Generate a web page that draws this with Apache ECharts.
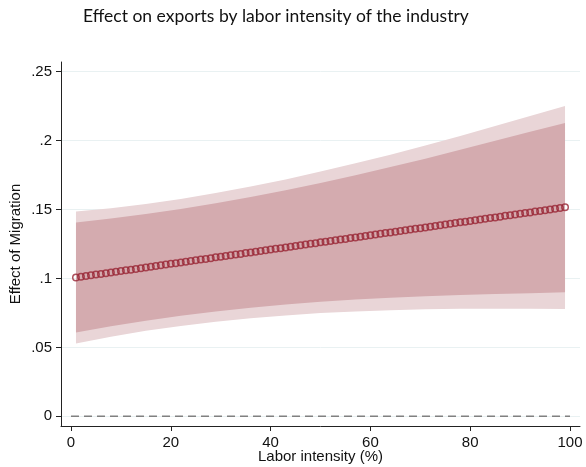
<!DOCTYPE html>
<html>
<head>
<meta charset="utf-8">
<script src="https://cdn.jsdelivr.net/npm/echarts@6/dist/echarts.min.js"></script>
<style>
  html, body { margin: 0; padding: 0; background: #fff; }
  #chart { width: 586px; height: 467px; }
</style>
</head>
<body>
<div id="chart"></div>
<script>
// Labor intensity of the industry (%), one estimate per percentage point
const labor = [1,2,3,4,5,6,7,8,9,10,11,12,13,14,15,16,17,18,19,20,
  21,22,23,24,25,26,27,28,29,30,31,32,33,34,35,36,37,38,39,40,
  41,42,43,44,45,46,47,48,49,50,51,52,53,54,55,56,57,58,59,60,
  61,62,63,64,65,66,67,68,69,70,71,72,73,74,75,76,77,78,79,80,
  81,82,83,84,85,86,87,88,89,90,91,92,93,94,95,96,97,98,99];

// Marginal effect of migration on exports
const effect = [0.1007,0.1012,0.1018,0.1023,0.1028,0.1033,0.1038,0.1044,0.1049,0.1054,
  0.1059,0.1064,0.1069,0.1075,0.1080,0.1085,0.1090,0.1095,0.1101,0.1106,
  0.1111,0.1116,0.1121,0.1127,0.1132,0.1137,0.1142,0.1147,0.1153,0.1158,
  0.1163,0.1168,0.1173,0.1178,0.1184,0.1189,0.1194,0.1199,0.1204,0.1210,
  0.1215,0.1220,0.1225,0.1230,0.1236,0.1241,0.1246,0.1251,0.1256,0.1262,
  0.1267,0.1272,0.1277,0.1282,0.1287,0.1293,0.1298,0.1303,0.1308,0.1313,
  0.1319,0.1324,0.1329,0.1334,0.1339,0.1345,0.1350,0.1355,0.1360,0.1365,
  0.1370,0.1376,0.1381,0.1386,0.1391,0.1396,0.1402,0.1407,0.1412,0.1417,
  0.1422,0.1428,0.1433,0.1438,0.1443,0.1448,0.1454,0.1459,0.1464,0.1469,
  0.1474,0.1479,0.1485,0.1490,0.1495,0.1500,0.1505,0.1511,0.1516];

// Confidence bands, read at every 7th point
const bandX     = [1, 8, 15, 22, 29, 36, 43, 50, 57, 64, 71, 78, 85, 92, 99];
const ci95Upper = [0.1486,0.1510,0.1541,0.1577,0.1620,0.1667,0.1718,0.1775,0.1835,0.1898,0.1965,0.2034,0.2105,0.2178,0.2250];
const ci95Lower = [0.0528,0.0578,0.0620,0.0655,0.0686,0.0712,0.0732,0.0749,0.0761,0.0770,0.0776,0.0780,0.0781,0.0780,0.0778];
const ci90Upper = [0.1406,0.1435,0.1467,0.1503,0.1545,0.1590,0.1639,0.1693,0.1749,0.1808,0.1869,0.1933,0.1999,0.2065,0.2128];
const ci90Lower = [0.0608,0.0653,0.0694,0.0729,0.0761,0.0788,0.0811,0.0831,0.0847,0.0860,0.0871,0.0881,0.0887,0.0893,0.0900];

// Reference line at zero effect
const zeroLineX = [0, 100];
const zeroLineY = [0, 0];

// Axis ticks
const xTicks = [0, 20, 40, 60, 80, 100];
const yTicks = [0, 0.05, 0.1, 0.15, 0.2, 0.25];
const yTickLabels = ['0', '.05', '.1', '.15', '.2', '.25'];

const FONT = 'Liberation Sans';
const FONT_SIZE = 15;
const AXIS_COLOR = '#222';

function bandSeries(name, lower, upper, fill, z) {
  return {
    type: 'custom',
    name: name,
    silent: true,
    z: z,
    data: bandX.map((x, i) => [x, lower[i], upper[i]]),
    encode: { x: 0, y: [1, 2] },
    renderItem: function (params, api) {
      if (params.dataIndex !== 0) return null;
      const pts = [];
      for (let i = 0; i < bandX.length; i++) pts.push(api.coord([bandX[i], upper[i]]));
      for (let i = bandX.length - 1; i >= 0; i--) pts.push(api.coord([bandX[i], lower[i]]));
      return { type: 'polygon', shape: { points: pts }, style: { fill: fill } };
    }
  };
}

const chart = echarts.init(document.getElementById('chart'), null, { renderer: 'canvas' });

chart.setOption({
  animation: false,
  backgroundColor: '#fff',
  title: {
    text: 'Effect on exports by labor intensity of the industry',
    left: 78,
    top: 2,
    textStyle: { fontFamily: 'Lato', fontWeight: 'normal', fontSize: 17.5, color: '#111' }
  },
  grid: { left: 61, right: 6, top: 62, bottom: 41, outerBoundsMode: 'none', containLabel: false },
  xAxis: {
    type: 'value',
    min: -2,
    max: 102,
    name: 'Labor intensity (%)',
    nameLocation: 'middle',
    nameGap: 23,
    nameMoveOverlap: false,
    nameTextStyle: { fontFamily: FONT, fontSize: FONT_SIZE, color: '#111' },
    axisLine: { show: true, onZero: false, lineStyle: { color: AXIS_COLOR, width: 1 } },
    axisTick: { show: true, customValues: xTicks, length: 5, lineStyle: { color: AXIS_COLOR } },
    axisLabel: { customValues: xTicks, margin: 9, fontFamily: FONT, fontSize: FONT_SIZE, color: '#111' },
    splitLine: { show: false }
  },
  yAxis: {
    type: 'value',
    min: -0.007,
    max: 0.257,
    name: 'Effect of Migration',
    nameLocation: 'middle',
    nameGap: 38,
    nameMoveOverlap: false,
    nameTextStyle: { fontFamily: FONT, fontSize: FONT_SIZE, color: '#111' },
    axisLine: { show: true, onZero: false, lineStyle: { color: AXIS_COLOR, width: 1 } },
    axisTick: { show: true, customValues: yTicks, length: 5, lineStyle: { color: AXIS_COLOR } },
    axisLabel: {
      customValues: yTicks,
      margin: 9,
      fontFamily: FONT,
      fontSize: FONT_SIZE,
      color: '#111',
      formatter: function (v) {
        const i = yTicks.findIndex(t => Math.abs(t - v) < 1e-9);
        return i >= 0 ? yTickLabels[i] : '';
      }
    },
    splitLine: { show: true, lineStyle: { color: '#e9f1f2', width: 1 } }
  },
  series: [
    bandSeries('95% CI', ci95Lower, ci95Upper, '#e9d5d7', 1),
    bandSeries('90% CI', ci90Lower, ci90Upper, '#d4abaf', 2),
    {
      type: 'line',
      name: 'zero',
      data: zeroLineX.map((x, i) => [x, zeroLineY[i]]),
      symbol: 'none',
      silent: true,
      z: 3,
      lineStyle: { color: '#808080', width: 1.5, type: [8, 5] }
    },
    {
      type: 'scatter',
      name: 'Effect of Migration',
      data: labor.map((x, i) => [x, effect[i]]),
      symbol: 'circle',
      symbolSize: 6.5,
      z: 4,
      itemStyle: { color: 'rgba(0,0,0,0)', borderColor: '#992634', borderWidth: 1.5 }
    }
  ]
});
</script>
</body>
</html>
